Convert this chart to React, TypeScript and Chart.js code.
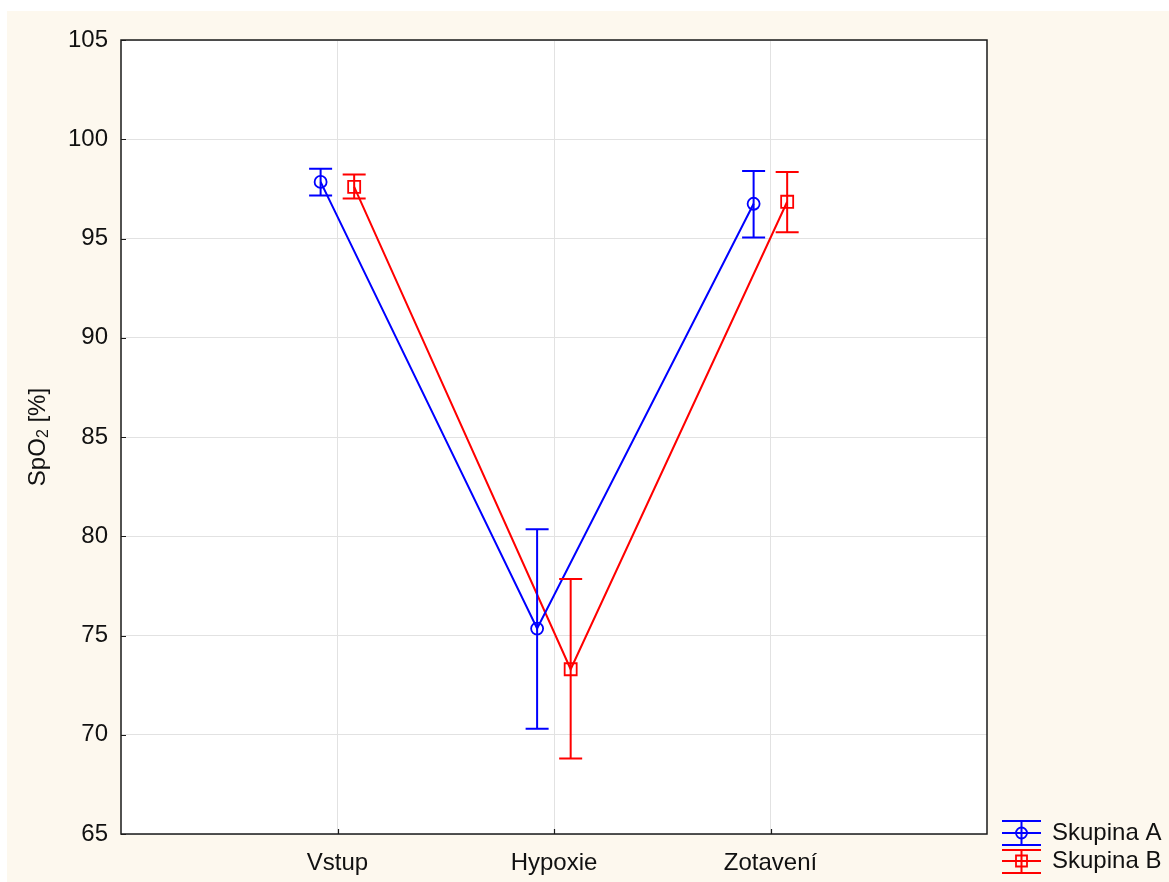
import { useEffect, useRef } from "react";
import { Chart, registerables } from "chart.js";

Chart.register(...registerables);

// Measurement phases
const categories = ["Vstup", "Hypoxie", "Zotavení"];

// Skupina A: mean SpO2 with lower / upper error limits
const meanA = [97.85, 75.35, 96.75];
const lowA = [97.17, 70.3, 95.05];
const highA = [98.52, 80.35, 98.4];

// Skupina B: mean SpO2 with lower / upper error limits
const meanB = [97.6, 73.3, 96.85];
const lowB = [97.02, 68.8, 95.32];
const highB = [98.22, 77.85, 98.35];

const yMin = 65;
const yMax = 105;
const yStep = 5;

const FONT = "'Liberation Sans', Arial, Helvetica, sans-serif";
const TEXT = "#111111";
const BG = "#fdf8ee";
const GRID = "#e2e2e2";
const FS = 24;

type Series = {
  label: string;
  color: string;
  mean: number[];
  low: number[];
  high: number[];
  dodge: number;
  marker: "circle" | "rect";
};

const series: Series[] = [
  { label: "Skupina A", color: "#0000ff", mean: meanA, low: lowA, high: highA, dodge: -0.078, marker: "circle" },
  { label: "Skupina B", color: "#ff0000", mean: meanB, low: lowB, high: highB, dodge: 0.077, marker: "rect" },
];

const W = 1162;
const H = 871;

function drawMarker(ctx: CanvasRenderingContext2D, kind: string, x: number, y: number, color: string) {
  ctx.save();
  ctx.strokeStyle = color;
  ctx.lineWidth = 1.8;
  ctx.beginPath();
  if (kind === "circle") {
    ctx.arc(x, y, 5.5, 0, Math.PI * 2);
  } else {
    ctx.rect(x - 5.5, y - 5.5, 11, 11);
  }
  ctx.stroke();
  ctx.restore();
}

const backgroundPlugin = {
  id: "panelBackground",
  beforeDraw(chart: any) {
    const { ctx, chartArea: a } = chart;
    ctx.save();
    ctx.fillStyle = BG;
    ctx.fillRect(0, 0, chart.width, chart.height);
    ctx.fillStyle = "#ffffff";
    ctx.fillRect(a.left, a.top, a.right - a.left, a.bottom - a.top);
    ctx.restore();
  },
};

const errorBarPlugin = {
  id: "errorBars",
  afterDatasetsDraw(chart: any) {
    const { ctx } = chart;
    const xs = chart.scales.x;
    const ys = chart.scales.y;
    const cap = 11.5;
    series.forEach((s) => {
      ctx.save();
      ctx.strokeStyle = s.color;
      ctx.lineWidth = 2;
      s.mean.forEach((_, i) => {
        const x = xs.getPixelForValue(i + 1 + s.dodge);
        const yl = ys.getPixelForValue(s.low[i]);
        const yh = ys.getPixelForValue(s.high[i]);
        ctx.beginPath();
        ctx.moveTo(x, yl);
        ctx.lineTo(x, yh);
        ctx.moveTo(x - cap, yl);
        ctx.lineTo(x + cap, yl);
        ctx.moveTo(x - cap, yh);
        ctx.lineTo(x + cap, yh);
        ctx.stroke();
      });
      ctx.restore();
    });
  },
};

const framePlugin = {
  id: "frameAndExtras",
  afterDraw(chart: any) {
    const { ctx, chartArea: a } = chart;
    const xs = chart.scales.x;
    const ys = chart.scales.y;
    ctx.save();
    // plot frame
    ctx.strokeStyle = "#1a1a1a";
    ctx.lineWidth = 1.5;
    ctx.strokeRect(a.left, a.top, a.right - a.left, a.bottom - a.top);
    // inward tick marks
    ctx.lineWidth = 1.2;
    ctx.beginPath();
    xs.ticks.forEach((t: any) => {
      const x = Math.round(xs.getPixelForValue(t.value)) + 0.5;
      ctx.moveTo(x, a.bottom);
      ctx.lineTo(x, a.bottom - 5);
    });
    ys.ticks.forEach((t: any) => {
      const y = Math.round(ys.getPixelForValue(t.value)) + 0.5;
      ctx.moveTo(a.left, y);
      ctx.lineTo(a.left + 5, y);
    });
    ctx.stroke();

    // y axis title with subscript
    ctx.fillStyle = TEXT;
    ctx.translate(31, 426);
    ctx.rotate(-Math.PI / 2);
    ctx.textBaseline = "middle";
    const big = `${FS}px ${FONT}`;
    const small = `16px ${FONT}`;
    ctx.font = big;
    const w1 = ctx.measureText("SpO").width;
    const w3 = ctx.measureText(" [%]").width;
    ctx.font = small;
    const w2 = ctx.measureText("2").width;
    let x0 = -(w1 + w2 + w3) / 2;
    ctx.font = big;
    ctx.textAlign = "left";
    ctx.fillText("SpO", x0, 0);
    x0 += w1;
    ctx.font = small;
    ctx.fillText("2", x0, 6);
    x0 += w2;
    ctx.font = big;
    ctx.fillText(" [%]", x0, 0);
    ctx.setTransform(1, 0, 0, 1, 0, 0);

    // legend
    const rows = [
      { top: 810, mid: 822, bottom: 834 },
      { top: 839, mid: 850, bottom: 862 },
    ];
    series.forEach((s, k) => {
      const r = rows[k];
      const x1 = 995;
      const x2 = 1034;
      const cx = 1014.5;
      ctx.strokeStyle = s.color;
      ctx.lineWidth = 2;
      ctx.beginPath();
      [r.top, r.mid, r.bottom].forEach((y) => {
        ctx.moveTo(x1, y);
        ctx.lineTo(x2, y);
      });
      ctx.moveTo(cx, r.top);
      ctx.lineTo(cx, r.bottom);
      ctx.stroke();
      drawMarker(ctx, s.marker, cx, r.mid, s.color);
      ctx.fillStyle = TEXT;
      ctx.font = `${FS}px ${FONT}`;
      ctx.textAlign = "left";
      ctx.textBaseline = "middle";
      ctx.fillText(s.label, 1045, r.mid);
    });
    ctx.restore();
  },
};

export default function App() {
  const ref = useRef<HTMLCanvasElement | null>(null);

  useEffect(() => {
    if (!ref.current) return;
    const yTicks: number[] = [];
    for (let v = yMin; v <= yMax; v += yStep) yTicks.push(v);

    const chart = new Chart(ref.current, {
      type: "line",
      data: {
        datasets: series.map((s) => ({
          label: s.label,
          data: s.mean.map((m, i) => ({ x: i + 1 + s.dodge, y: m })),
          borderColor: s.color,
          borderWidth: 2,
          pointStyle: s.marker,
          pointRadius: s.marker === "circle" ? 6 : 8.5,
          pointBorderWidth: 1.8,
          pointBorderColor: s.color,
          pointBackgroundColor: "rgba(0,0,0,0)",
          tension: 0,
          fill: false,
        })),
      },
      options: {
        responsive: false,
        animation: false,
        devicePixelRatio: 1,
        layout: { padding: { top: 29, right: 182, left: 0, bottom: 0 } },
        plugins: {
          legend: { display: false },
          tooltip: { enabled: false },
        },
        scales: {
          x: {
            type: "linear",
            min: 0,
            max: 4,
            afterBuildTicks: (scale: any) => {
              scale.ticks = categories.map((_, i) => ({ value: i + 1 }));
            },
            afterFit: (scale: any) => {
              scale.height = 48;
            },
            grid: { color: GRID, drawTicks: false, lineWidth: 1 },
            border: { display: false },
            ticks: {
              callback: (v: any) => categories[Number(v) - 1] ?? "",
              font: { family: FONT, size: FS },
              color: TEXT,
              padding: 15,
              maxRotation: 0,
              autoSkip: false,
            },
          },
          y: {
            type: "linear",
            min: yMin,
            max: yMax,
            afterBuildTicks: (scale: any) => {
              scale.ticks = yTicks.map((v) => ({ value: v }));
            },
            afterFit: (scale: any) => {
              scale.width = 114;
            },
            grid: { color: GRID, drawTicks: false, lineWidth: 1 },
            border: { display: false },
            ticks: {
              font: { family: FONT, size: FS },
              color: TEXT,
              padding: 13,
            },
          },
        },
      },
      plugins: [backgroundPlugin, errorBarPlugin, framePlugin],
    } as any);

    return () => chart.destroy();
  }, []);

  return (
    <div style={{ position: "absolute", left: 7, top: 11, width: W, height: H, background: BG }}>
      <canvas ref={ref} width={W} height={H} style={{ display: "block", width: W, height: H }} />
    </div>
  );
}
